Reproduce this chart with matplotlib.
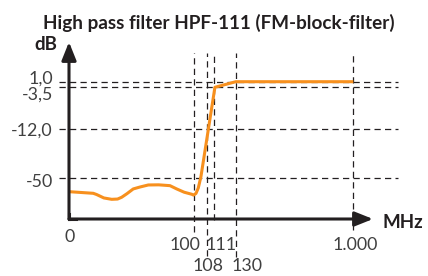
import numpy as np
import matplotlib
matplotlib.use("Agg")
import matplotlib.pyplot as plt

# ---------------- data ----------------
title = "High pass filter HPF-111 (FM-block-filter)"
freq_mhz = [0, 19.5, 22.2, 28.0, 34.3, 39.0, 42.3, 46.5, 51.6, 57.0, 63.7, 72.0, 81.1, 86.5, 92.5, 98.6, 100, 101.5, 102.9, 104.5, 111.8, 131, 1000]
gain_db = [-60.0, -61.2, -62.1, -64.6, -65.6, -65.4, -64.1, -61.5, -58.0, -56.6, -55.1, -55.0, -55.6, -58.0, -60.4, -61.9, -62.5, -61.3, -57.3, -49.0, -3.5, 1.0, 1.0]
x_ticks = [0, 100, 108, 111, 130, 1000]
x_tick_labels = ["0", "100", "108", "111", "130", "1.000"]
y_ticks = [1.0, -3.5, -12.0, -50]
y_tick_labels = ["1,0", "-3,5", "-12,0", "-50"]
x_unit = "MHz"
y_unit = "dB"

# ---------------- schematic (piecewise) scales ----------------
# value anchors -> pixel positions along each axis (layout of the schematic)
X_VAL = [0, 100, 108, 111, 130, 1000]
X_POS = [0, 124.5, 137.7, 145, 166.7, 284.3]
Y_VAL = [-80, -50, -12, -3.5, 1.0]
Y_POS = [0, 41, 90, 131.7, 137.3]


def piecewise(vals, pos):
    vals = np.asarray(vals, float)
    pos = np.asarray(pos, float)

    def fwd(x):
        x = np.asarray(x, float)
        out = np.interp(x, vals, pos)
        s0 = (pos[1] - pos[0]) / (vals[1] - vals[0])
        s1 = (pos[-1] - pos[-2]) / (vals[-1] - vals[-2])
        out = np.where(x < vals[0], pos[0] + (x - vals[0]) * s0, out)
        out = np.where(x > vals[-1], pos[-1] + (x - vals[-1]) * s1, out)
        return out

    def inv(p):
        p = np.asarray(p, float)
        out = np.interp(p, pos, vals)
        s0 = (vals[1] - vals[0]) / (pos[1] - pos[0])
        s1 = (vals[-1] - vals[-2]) / (pos[-1] - pos[-2])
        out = np.where(p < pos[0], vals[0] + (p - pos[0]) * s0, out)
        out = np.where(p > pos[-1], vals[-1] + (p - pos[-1]) * s1, out)
        return out

    return fwd, inv


xf, xi = piecewise(X_VAL, X_POS)
yf, yi = piecewise(Y_VAL, Y_POS)

W, H = 428, 276
fig = plt.figure(figsize=(W / 100, H / 100), dpi=100)
AX_L, AX_B, AX_W, AX_H = 69, 57, 329, 177  # pixels
ax = fig.add_axes([AX_L / W, AX_B / H, AX_W / W, AX_H / H])
ax.set_xscale("function", functions=(xf, xi))
ax.set_yscale("function", functions=(yf, yi))
ax.set_xlim(float(xi(0)), float(xi(AX_W)))
ax.set_ylim(float(yi(0)), float(yi(AX_H)))
for s in ax.spines.values():
    s.set_visible(False)
ax.set_xticks([])
ax.set_yticks([])
ax.minorticks_off()

FONT = "Lato"
DARK = "#231f20"
TXT = "#404040"
ORANGE = "#f7901e"
dash = (0, (5.0, 3.4))
TICK_FS = 12.8
BOLD_FS = 13.5

# horizontal guide lines
for v in y_ticks:
    ax.plot([-10 / AX_W, 1.0], [v, v], transform=ax.get_yaxis_transform(),
            color=DARK, lw=0.9, linestyle=dash, clip_on=False, zorder=1)

# vertical guide lines (bottom extents in pixels below the axis)
v_bottom_px = [None, 13, 37, 1, 38, 11]
for v, b in zip(x_ticks, v_bottom_px):
    if b is None:
        continue
    ax.plot([v, v], [-b / AX_H, 166 / AX_H], transform=ax.get_xaxis_transform(),
            color=DARK, lw=0.9, linestyle=dash, clip_on=False, zorder=1)

# curve
ax.plot(freq_mhz, gain_db, color=ORANGE, lw=2.2, solid_joinstyle="round",
        solid_capstyle="butt", clip_on=False, zorder=3)

# axes arrows
arrow_style = "-|>,head_length=0.55,head_width=0.22"
ax.annotate("", xy=((373 - AX_L) / AX_W, 0), xytext=(0, 0), xycoords="axes fraction",
            arrowprops=dict(arrowstyle=arrow_style, lw=2.2, color=DARK,
                            mutation_scale=20, shrinkA=0, shrinkB=0), zorder=4)
ax.annotate("", xy=(0, 1), xytext=(0, 0), xycoords="axes fraction",
            arrowprops=dict(arrowstyle=arrow_style, lw=2.2, color=DARK,
                            mutation_scale=20, shrinkA=0, shrinkB=0), zorder=4)
ax.plot([0, 0.02], [0, 0], transform=ax.transAxes, color=DARK, lw=2.2,
        solid_capstyle="projecting", clip_on=False, zorder=4)
ax.plot([0, 0], [0, 0.03], transform=ax.transAxes, color=DARK, lw=2.2,
        solid_capstyle="projecting", clip_on=False, zorder=4)

# x tick labels (offsets in pixels from the tick value on the axis)
x_lab_off = [(1, -18), (-9, -26), (1, -47), (7, -26), (11, -47), (2, -26)]
for v, lab, (dx, dy) in zip(x_ticks, x_tick_labels, x_lab_off):
    ax.annotate(lab, xy=(v, 0), xycoords=ax.get_xaxis_transform(),
                xytext=(dx, dy), textcoords="offset pixels",
                ha="center", va="center", fontsize=TICK_FS, color=TXT,
                family=FONT, annotation_clip=False)

# y tick labels
y_lab_off = [(-16, 5), (-16, -6), (-16, 0), (-16, -2.5)]
for v, lab, (dx, dy) in zip(y_ticks, y_tick_labels, y_lab_off):
    ax.annotate(lab, xy=(0, v), xycoords=ax.get_yaxis_transform(),
                xytext=(dx, dy), textcoords="offset pixels",
                ha="right", va="center_baseline", fontsize=TICK_FS, color=TXT,
                family=FONT, annotation_clip=False)

# axis unit labels
ax.annotate(y_unit, xy=(0, 1), xycoords="axes fraction", xytext=(-23, -3),
            textcoords="offset pixels", ha="center", va="center",
            fontsize=BOLD_FS, fontweight="bold", color=DARK, family=FONT,
            annotation_clip=False)
ax.annotate(x_unit, xy=((373 - AX_L) / AX_W, 0), xycoords="axes fraction",
            xytext=(10, -3), textcoords="offset pixels", ha="left", va="center",
            fontsize=BOLD_FS, fontweight="bold", color=DARK, family=FONT,
            annotation_clip=False)

fig.text(219 / W, 1 - 23 / H, title, ha="center", va="center", fontsize=13.6,
         fontweight="bold", color=DARK, family=FONT)

fig.savefig("out.png", dpi=100)
